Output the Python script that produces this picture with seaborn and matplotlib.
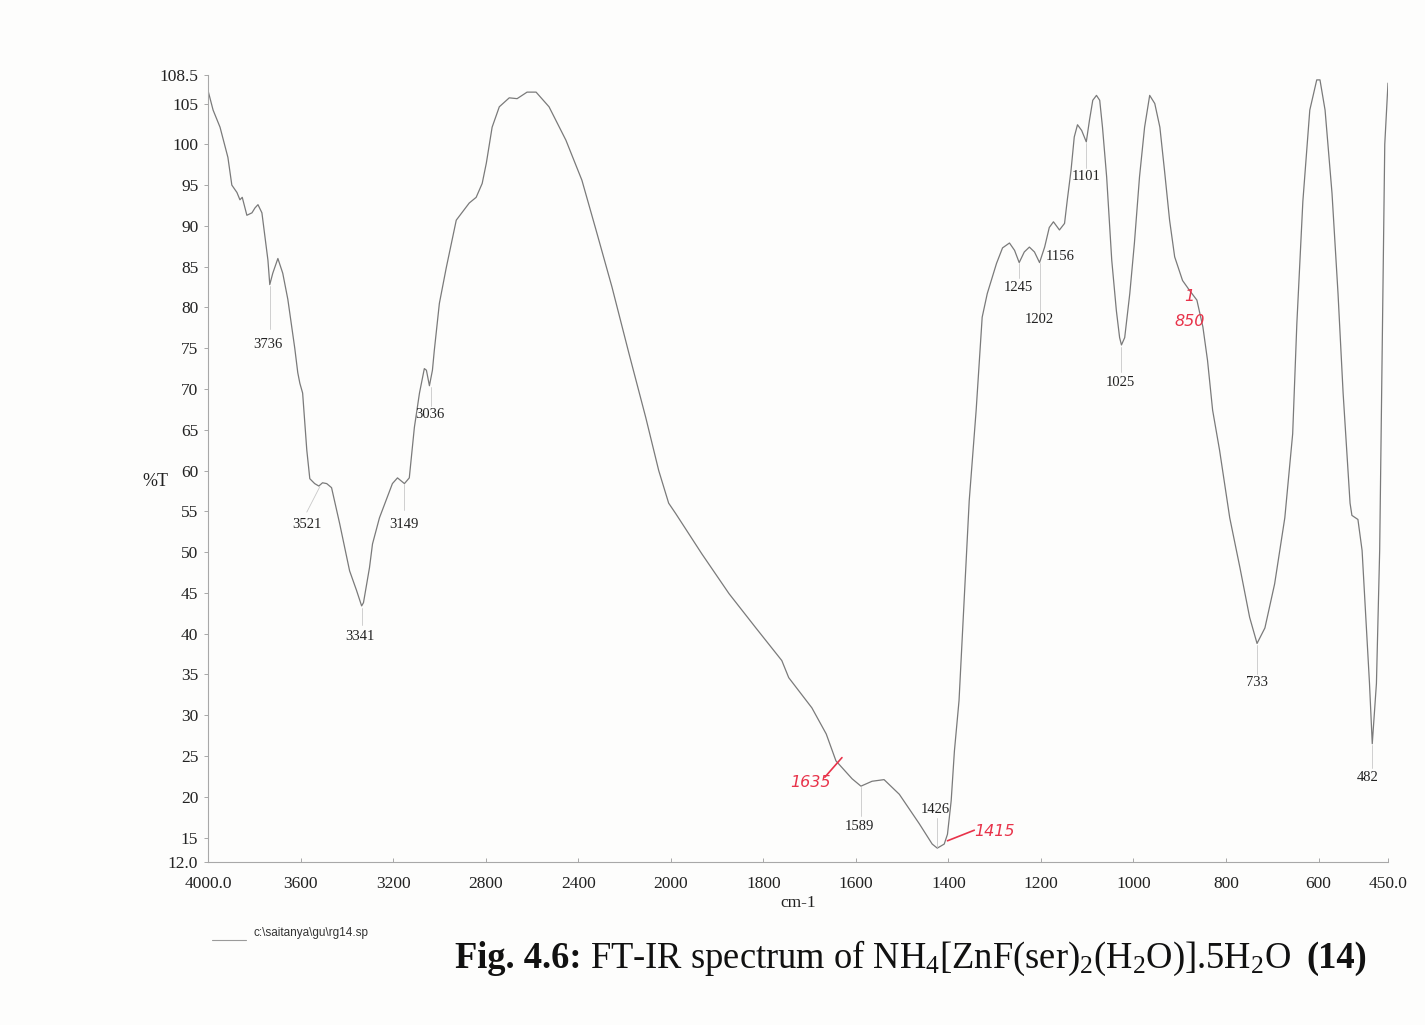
import numpy as np
import pandas as pd
import matplotlib
matplotlib.use("Agg")
import matplotlib.pyplot as plt
from matplotlib.lines import Line2D
import seaborn as sns

# ---------------- data, 10 values per line ----------------
wavenumber = [
    4000, 3978, 3948, 3914, 3897, 3875, 3862, 3852, 3832, 3810,
    3797, 3784, 3767, 3741, 3733, 3720, 3698, 3677, 3660, 3655,
    3638, 3625, 3612, 3603, 3591, 3573, 3560, 3539, 3521, 3505,
    3487, 3466, 3431, 3388, 3358, 3336, 3328, 3302, 3289, 3259,
    3203, 3181, 3151, 3130, 3108, 3086, 3065, 3056, 3043, 3030,
    3022, 3000, 2970, 2927, 2871, 2841, 2815, 2797, 2772, 2741,
    2698, 2664, 2621, 2582, 2526, 2453, 2384, 2323, 2254, 2181,
    2108, 2052, 2009, 1989, 1933, 1874, 1816, 1760, 1745, 1695,
    1664, 1643, 1608, 1589, 1565, 1539, 1506, 1463, 1435, 1424,
    1409, 1402, 1394, 1387, 1377, 1366, 1355, 1340, 1327, 1316,
    1296, 1283, 1268, 1257, 1247, 1236, 1225, 1214, 1203, 1192,
    1182, 1173, 1160, 1149, 1143, 1135, 1128, 1121, 1112, 1102,
    1095, 1088, 1080, 1073, 1067, 1058, 1047, 1037, 1030, 1026,
    1019, 1008, 998, 987, 976, 965, 954, 943, 933, 922,
    911, 894, 879, 863, 850, 840, 829, 814, 792, 770,
    749, 733, 716, 695, 673, 656, 647, 634, 619, 604,
    597, 586, 571, 558, 547, 532, 528, 515, 506, 490,
    484, 475, 468, 457, 450]
transmittance = [
    106.6, 104.2, 102.1, 98.4, 95.0, 94.1, 93.2, 93.5, 91.3, 91.6,
    92.2, 92.6, 91.6, 85.8, 82.8, 84.2, 86.0, 84.2, 81.7, 81.0,
    77.6, 75.0, 72.0, 70.7, 69.5, 62.5, 59.0, 58.4, 58.1, 58.5,
    58.4, 57.9, 53.5, 47.7, 45.3, 43.4, 43.8, 48.1, 51.0, 54.2,
    58.4, 59.1, 58.4, 59.1, 65.3, 69.5, 72.5, 72.3, 70.4, 72.3,
    74.7, 80.5, 84.9, 90.7, 92.8, 93.5, 95.2, 97.7, 102.1, 104.6,
    105.7, 105.6, 106.4, 106.4, 104.6, 100.5, 95.6, 89.5, 82.5, 74.4,
    66.5, 60.0, 56.0, 54.7, 49.8, 44.9, 40.7, 36.7, 34.6, 30.9,
    27.7, 24.4, 22.2, 21.3, 21.9, 22.1, 20.3, 16.7, 14.2, 13.7,
    14.2, 15.4, 19.5, 25.6, 31.8, 44.0, 56.3, 67.4, 78.8, 81.7,
    85.4, 87.3, 87.9, 87.0, 85.5, 86.8, 87.4, 86.8, 85.5, 87.4,
    89.8, 90.5, 89.5, 90.3, 93.2, 96.8, 100.9, 102.4, 101.7, 100.3,
    103.0, 105.4, 106.0, 105.4, 102.1, 96.0, 85.8, 79.6, 76.3, 75.4,
    76.3, 81.7, 87.9, 96.0, 102.1, 106.0, 105.0, 102.1, 96.8, 90.7,
    86.2, 83.3, 82.1, 80.9, 77.6, 73.5, 67.4, 62.5, 54.2, 48.1,
    42.0, 38.8, 40.7, 46.1, 54.2, 64.5, 78.0, 93.0, 104.2, 107.9,
    107.9, 104.2, 94.0, 81.7, 69.5, 56.0, 54.5, 54.0, 50.2, 33.9,
    26.5, 33.9, 50.2, 100.0, 107.5]

# peak labels: text, leader line (wavenumber, start T, end T), text position (wavenumber, T)
peak_labels = ["3736", "3521", "3341", "3149", "3036", "1589", "1426",
               "1245", "1202", "1156", "1101", "1025", "733", "482"]
peak_line_w = [3733, 3517, 3336, 3151, 3038, 1589, 1424, 1247, 1203, None, 1102, 1026, 733, 484]
peak_line_t0 = [82.6, 58.0, 43.2, 58.3, 70.2, 21.2, 13.8, 85.4, 85.4, None, 100.2, 75.2, 38.6, 26.3]
peak_line_t1 = [77.3, 54.9, 41.0, 55.2, 67.9, 17.6, 17.4, 83.6, 78.2, None, 97.1, 72.1, 35.0, 23.5]
peak_text_w = [3742, 3573, 3345, 3155, 3043, 1593, 1428, 1249, 1203, 1158, 1102, 1028, 733, 495]
peak_text_t = [75.5, 53.4, 39.7, 53.4, 66.9, 16.4, 18.4, 82.4, 78.5, 86.3, 96.0, 70.8, 34.0, 22.3]

x_ticks = [4000, 3600, 3200, 2800, 2400, 2000, 1800, 1600, 1400, 1200, 1000, 800, 600, 450]
x_ticklabels = ["4000.0", "3600", "3200", "2800", "2400", "2000", "1800", "1600", "1400",
                "1200", "1000", "800", "600", "450.0"]
y_ticks = [12, 15, 20, 25, 30, 35, 40, 45, 50, 55, 60, 65, 70, 75, 80, 85, 90, 95, 100, 105, 108.5]
y_ticklabels = ["12.0", "15", "20", "25", "30", "35", "40", "45", "50", "55", "60", "65", "70",
                "75", "80", "85", "90", "95", "100", "105", "108.5"]

# ---------------- style ----------------
sns.set_style("ticks")
plt.rcParams["font.family"] = ["Liberation Serif", "DejaVu Serif"]
plt.rcParams["mathtext.fontset"] = "custom"
plt.rcParams["mathtext.rm"] = "Liberation Serif"
plt.rcParams["mathtext.it"] = "Liberation Serif:italic"
plt.rcParams["mathtext.bf"] = "Liberation Serif:bold"

W, H = 1425, 1025
fig = plt.figure(figsize=(W / 100, H / 100), dpi=100, facecolor="#fdfdfc")
ax = fig.add_axes([208 / W, 1 - 862 / H, 1180 / W, 787 / H])
ax.set_facecolor("#fdfdfc")


# PerkinElmer style axis: scale doubles below 2000 cm-1
def fwd(w):
    w = np.asarray(w, dtype=float)
    return np.where(w >= 2000, w, 2 * w - 2000)


def inv(u):
    u = np.asarray(u, dtype=float)
    return np.where(u >= 2000, u, (u + 2000) / 2)


ax.set_xscale("function", functions=(fwd, inv))

df = pd.DataFrame({"cm-1": wavenumber, "%T": transmittance})
sns.lineplot(data=df, x="cm-1", y="%T", sort=False, estimator=None, ax=ax,
             color="#7a7a7a", linewidth=0.9)

ax.set_xlim(4000, 450)
ax.set_ylim(12, 108.5)
ax.set_xticks(x_ticks)
ax.set_xticklabels(x_ticklabels)
ax.set_yticks(y_ticks)
ax.set_yticklabels(y_ticklabels)
ax.minorticks_off()
ax.tick_params(axis="both", labelsize=12.5, colors="#9a9a9a", labelcolor="#222222",
               length=3, width=0.6)
ax.tick_params(axis="x", direction="in", pad=10)
ax.tick_params(axis="y", pad=4)
for s in ["top", "right"]:
    ax.spines[s].set_visible(False)
for s in ["left", "bottom"]:
    ax.spines[s].set_color("#a8a8a8")
    ax.spines[s].set_linewidth(0.8)
ax.set_xlabel("")
ax.set_ylabel("")

# peak annotations
for lab, lw, t0, t1, tw, tt in zip(peak_labels, peak_line_w, peak_line_t0, peak_line_t1,
                                   peak_text_w, peak_text_t):
    if lw is not None:
        ax.plot([lw, tw if lab == "3521" else lw], [t0, t1], color="#c8c8c8", lw=0.6)
    ax.text(tw, tt, lab, ha="center", va="center", fontsize=10.5, color="#222222")

# handwritten red marks
red = "#e8334a"
hand = dict(color=red, fontsize=11.5, style="italic", ha="center", va="center",
            family=["DejaVu Sans"])
ax.plot([1667, 1630], [22.4, 24.8], color=red, lw=1.2)
ax.text(1697, 21.7, "1635", **hand)
ax.plot([1402, 1344], [14.6, 15.9], color=red, lw=1.2)
ax.text(1301, 15.8, "1415", **hand)
ax.text(879, 81.3, "1", **hand)
ax.text(879, 78.3, "850", **hand)

# axis titles
fig.text(155 / W, 1 - 482 / H, "%T", ha="center", va="center", fontsize=13, color="#222222")
fig.text(798 / W, 1 - 903 / H, "cm-1", ha="center", va="center", fontsize=12.5, color="#222222")

# file legend
fig.add_artist(Line2D([212 / W, 246 / W], [1 - 940 / H, 1 - 940 / H], color="#9a9a9a", lw=0.8))
fig.text(253 / W, 1 - 933 / H, "c:\\saitanya\\gu\\rg14.sp", ha="left", va="center",
         fontsize=8.5, color="#333333", family=["Liberation Sans", "DejaVu Sans"])

# caption: bold / regular / bold pieces on one baseline
renderer = fig.canvas.get_renderer()
cap_y = 1 - 968 / H
cap_size = 26.3
t1 = fig.text(455 / W, cap_y, "Fig. 4.6:", ha="left", va="baseline", fontsize=cap_size,
              weight="bold", color="#111111")
x1 = t1.get_window_extent(renderer).x1
t2 = fig.text((x1 + 9) / W, cap_y,
              r"FT-IR spectrum of NH$_4$[ZnF(ser)$_2$(H$_2$O)].5H$_2$O",
              ha="left", va="baseline", fontsize=cap_size, color="#111111")
x2 = t2.get_window_extent(renderer).x1
fig.text((x2 + 15) / W, cap_y, "(14)", ha="left", va="baseline", fontsize=cap_size,
         weight="bold", color="#111111")

fig.savefig("out.png", dpi=100, facecolor=fig.get_facecolor())
